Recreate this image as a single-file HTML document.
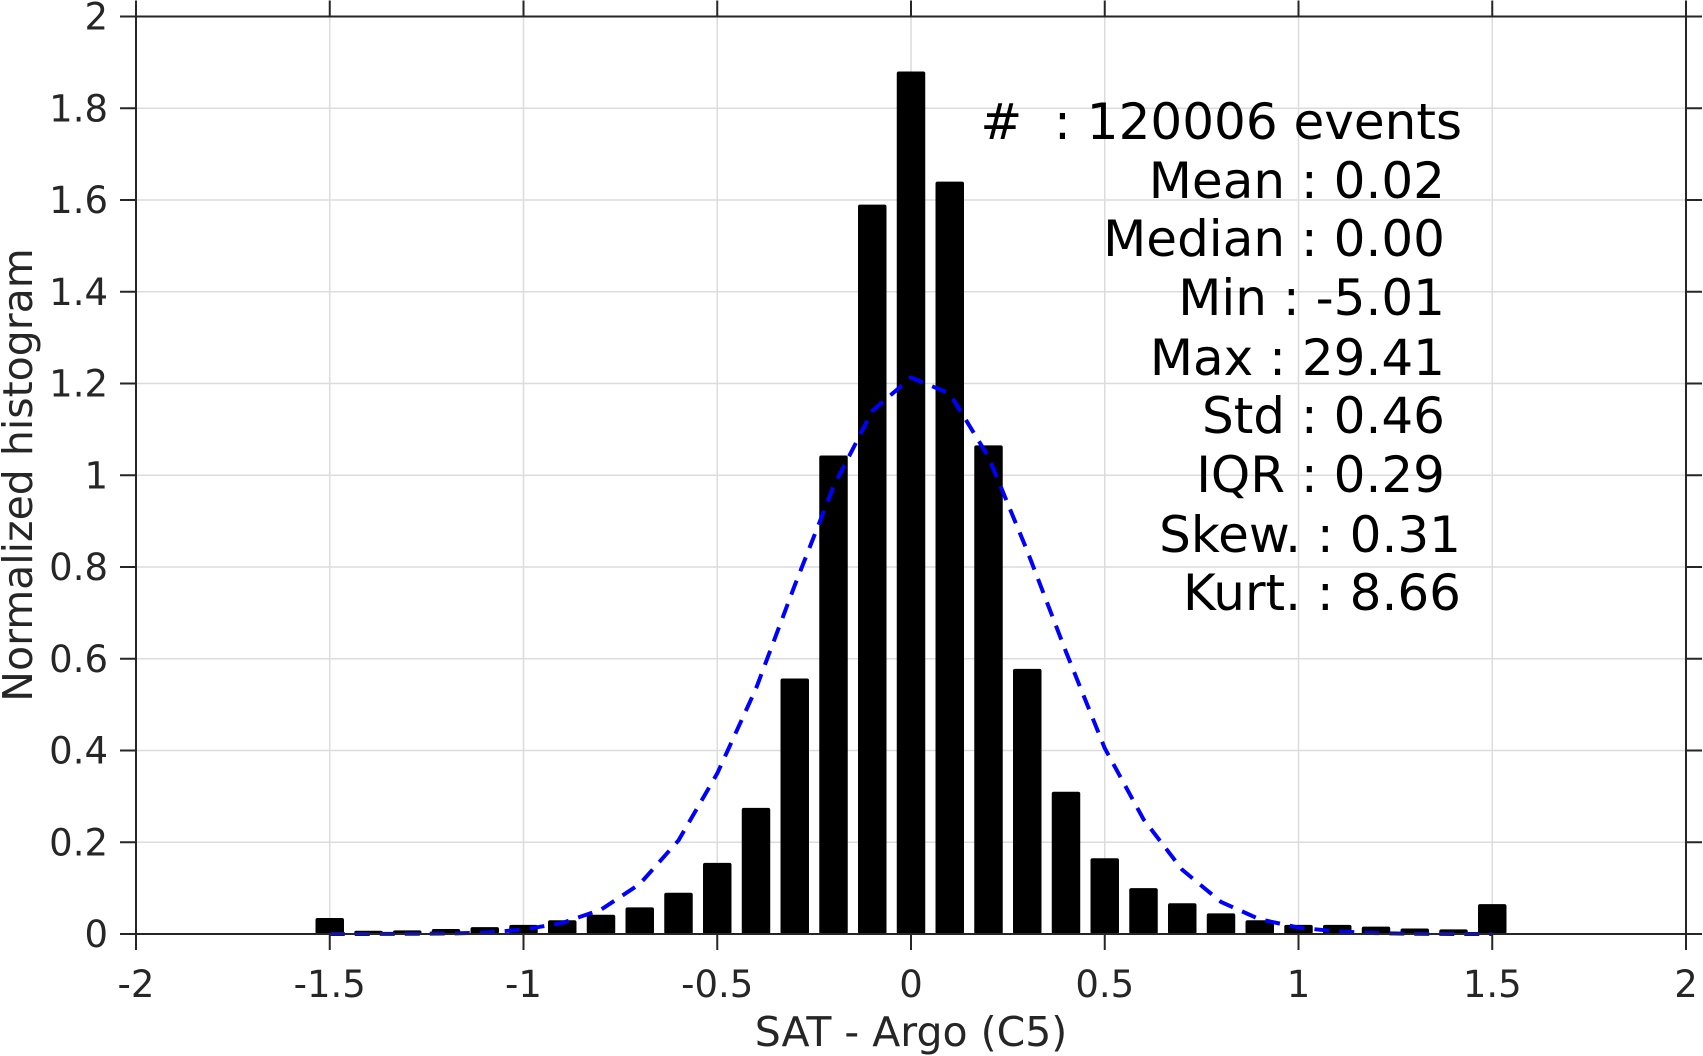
<!DOCTYPE html>
<html><head><meta charset="utf-8"><style>
html,body{margin:0;padding:0;background:#fff;}
svg{display:block;font-family:"DejaVu Sans","Liberation Sans",sans-serif;}
</style></head><body>
<svg id="chart" width="1703" height="1056" viewBox="0 0 1703 1056" xmlns="http://www.w3.org/2000/svg">
<g id="grid"></g>
<g id="bars"></g>
<polyline id="fit" fill="none" stroke="#0000ff" stroke-width="4" stroke-dasharray="15,10"/>
<g id="axes"></g>
<g id="stats" font-size="50" fill="#000" text-anchor="end">
<text x="1462" y="139" xml:space="preserve">#  : 120006 events</text>
<text x="1445" y="198">Mean : 0.02</text>
<text x="1445" y="256">Median : 0.00</text>
<text x="1445" y="315">Min : -5.01</text>
<text x="1445" y="375">Max : 29.41</text>
<text x="1445" y="433">Std : 0.46</text>
<text x="1445" y="492">IQR : 0.29</text>
<text x="1461" y="552">Skew. : 0.31</text>
<text x="1461" y="610">Kurt. : 8.66</text>
</g>
<text x="911" y="1046" font-size="41" fill="#262626" text-anchor="middle">SAT - Argo (C5)</text>
<text transform="translate(32,475) rotate(-90)" font-size="41" fill="#262626" text-anchor="middle">Normalized histogram</text>
</svg>
<script>
const binCenters=[-1.5,-1.4,-1.3,-1.2,-1.1,-1.0,-0.9,-0.8,-0.7,-0.6,-0.5,-0.4,-0.3,-0.2,-0.1,0,0.1,0.2,0.3,0.4,0.5,0.6,0.7,0.8,0.9,1.0,1.1,1.2,1.3,1.4,1.5];
const binValues=[0.035,0.007,0.008,0.011,0.015,0.02,0.03,0.042,0.058,0.09,0.155,0.275,0.557,1.043,1.59,1.88,1.64,1.065,0.578,0.31,0.165,0.1,0.067,0.045,0.03,0.02,0.02,0.016,0.012,0.01,0.065];
const fitValues=[0,0,0.0005,0.001,0.003,0.0096,0.024,0.053,0.109,0.204,0.35,0.535,0.76,0.975,1.14,1.213,1.178,1.04,0.835,0.615,0.405,0.25,0.14,0.07,0.032,0.014,0.0055,0.002,0.0005,0,0];
const xTicks=[-2,-1.5,-1,-0.5,0,0.5,1,1.5,2];
const xTickLabels=["-2","-1.5","-1","-0.5","0","0.5","1","1.5","2"];
const yTicks=[0,0.2,0.4,0.6,0.8,1,1.2,1.4,1.6,1.8,2];
const yTickLabels=["0","0.2","0.4","0.6","0.8","1","1.2","1.4","1.6","1.8","2"];
const X0=136,X1=1686,Y0=934,Y1=16.5;
function sx(v){return X0+(v+2)/4*(X1-X0);}
function sy(v){return Y0-v/2*(Y0-Y1);}
const NS="http://www.w3.org/2000/svg";
function mk(tag,attrs,parent){const e=document.createElementNS(NS,tag);for(const k in attrs)e.setAttribute(k,attrs[k]);parent.appendChild(e);return e;}
const grid=document.getElementById('grid');
xTicks.forEach(t=>{const l=mk('line',{x1:sx(t),x2:sx(t),y1:Y1,y2:Y0,stroke:'#dcdcdc','stroke-width':1.5},grid);

});
yTicks.forEach(t=>{const l=mk('line',{x1:X0,x2:X1,y1:sy(t),y2:sy(t),stroke:'#dcdcdc','stroke-width':1.5},grid);

});
const bars=document.getElementById('bars');
const bw=0.0735*(X1-X0)/4;
binCenters.forEach((c,i)=>{const r=mk('rect',{x:sx(c)-bw/2,y:sy(binValues[i]),width:bw,height:Y0-sy(binValues[i]),fill:'#000',rx:2},bars);

});
document.getElementById('fit').setAttribute('points',binCenters.map((c,i)=>sx(c)+','+sy(fitValues[i])).join(' '));
const ax=document.getElementById('axes');
const C='#262626';
mk('rect',{x:X0,y:Y1,width:X1-X0,height:Y0-Y1,fill:'none',stroke:C,'stroke-width':2},ax);
xTicks.forEach((t,i)=>{
mk('line',{x1:sx(t),x2:sx(t),y1:Y0,y2:Y0+16,stroke:C,'stroke-width':2},ax);
mk('line',{x1:sx(t),x2:sx(t),y1:Y1,y2:Y1-16,stroke:C,'stroke-width':2},ax);
const tx=mk('text',{x:sx(t),y:997,'font-size':37,fill:C,'text-anchor':'middle'},ax);
tx.textContent=xTickLabels[i];

});
yTicks.forEach((t,i)=>{
mk('line',{x1:X0-16,x2:X0,y1:sy(t),y2:sy(t),stroke:C,'stroke-width':2},ax);
mk('line',{x1:X1,x2:X1+16,y1:sy(t),y2:sy(t),stroke:C,'stroke-width':2},ax);
const tx=mk('text',{x:108,y:sy(t)+13,'font-size':37,fill:C,'text-anchor':'end'},ax);
tx.textContent=yTickLabels[i];

});
</script>
</body></html>
